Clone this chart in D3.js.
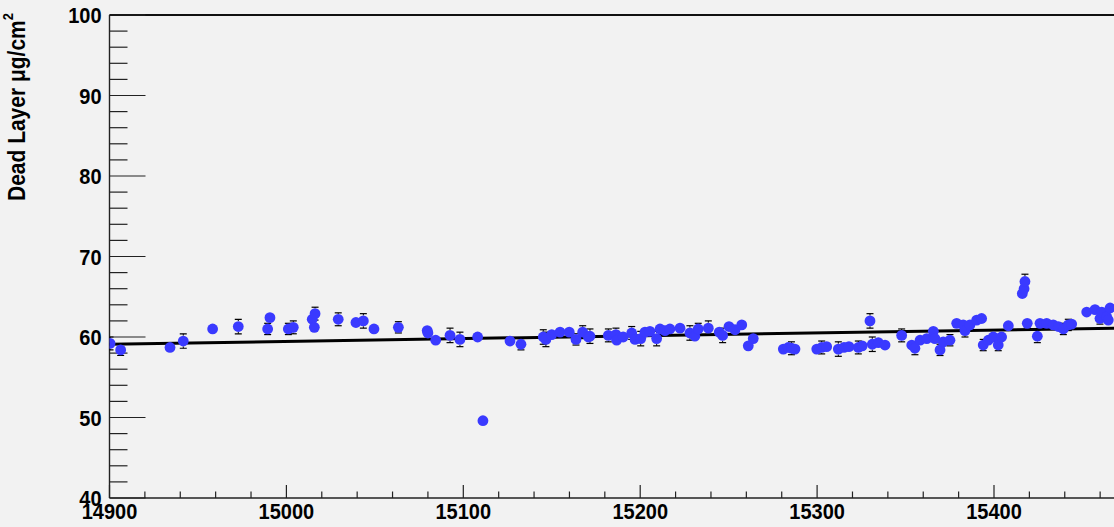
<!DOCTYPE html>
<html>
<head>
<meta charset="utf-8">
<script src="https://cdn.jsdelivr.net/npm/d3@7"></script>
<style>
  html, body { margin: 0; padding: 0; background: #f2f2f2; }
  svg { display: block; }
  text { font-family: "Liberation Sans", Arial, sans-serif; font-weight: bold; fill: #000; }
</style>
</head>
<body>
<svg id="chart" width="1114" height="527"></svg>
<script>
// ---- data ----
const dates = [
  14900.3, 14906.3, 14934.2, 14941.7, 14958.3, 14972.8, 14989.4, 14990.7, 15001.1, 15003.9,
  15014.6, 15015.8, 15016.2, 15029.3, 15039.3, 15043.5, 15049.5, 15063.3, 15079.6, 15080.0,
  15084.4, 15092.5, 15098.1, 15108.1, 15111.1, 15126.4, 15132.6, 15145.2, 15146.7, 15150.0,
  15154.7, 15159.9, 15163.7, 15167.5, 15170.7, 15171.6, 15182.0, 15186.3, 15186.7, 15190.4,
  15195.2, 15197.1, 15200.3, 15202.7, 15205.5, 15209.3, 15211.2, 15214.0, 15216.8, 15222.5,
  15228.1, 15230.9, 15232.8, 15238.5, 15244.7, 15246.6, 15250.2, 15253.6, 15257.4, 15261.1,
  15263.9, 15280.9, 15283.7, 15285.5, 15287.5, 15299.8, 15302.6, 15305.4, 15312.0, 15315.2,
  15318.0, 15323.3, 15325.5, 15329.9, 15331.2, 15334.6, 15338.4, 15347.8, 15353.5, 15355.3,
  15358.2, 15362.0, 15365.7, 15366.6, 15369.5, 15371.3, 15375.1, 15378.9, 15382.6, 15383.6,
  15386.4, 15390.2, 15393.0, 15393.9, 15396.8, 15399.6, 15402.4, 15404.3, 15408.1, 15416.0,
  15417.0, 15417.5, 15418.8, 15424.5, 15426.0, 15429.8, 15433.5, 15436.4, 15439.2, 15442.0,
  15443.9, 15452.4, 15457.1, 15459.9, 15460.9, 15463.7, 15464.6, 15465.6
];
const deadLayer = [
  59.2, 58.4, 58.7, 59.5, 61.0, 61.3, 61.0, 62.4, 61.0, 61.2,
  62.2, 61.2, 62.9, 62.2, 61.8, 62.0, 61.0, 61.2, 60.8, 60.5,
  59.6, 60.2, 59.7, 60.0, 49.6, 59.5, 59.1, 60.0, 59.7, 60.3,
  60.6, 60.6, 59.7, 60.6, 60.0, 60.1, 60.2, 60.3, 59.6, 60.0,
  60.5, 59.7, 59.8, 60.6, 60.7, 59.8, 61.0, 60.8, 61.0, 61.1,
  60.5, 60.1, 61.0, 61.1, 60.6, 60.2, 61.3, 60.9, 61.5, 58.9,
  59.8, 58.5, 58.7, 58.6, 58.5, 58.5, 58.7, 58.8, 58.5, 58.7,
  58.8, 58.7, 58.9, 62.0, 59.1, 59.3, 59.0, 60.2, 59.0, 58.6,
  59.6, 59.8, 60.7, 59.8, 58.4, 59.4, 59.6, 61.7, 61.5, 60.8,
  61.5, 62.1, 62.3, 59.0, 59.6, 60.0, 59.0, 60.0, 61.4, 65.4,
  66.0, 66.9, 61.7, 60.1, 61.7, 61.7, 61.5, 61.3, 61.0, 61.5,
  61.6, 63.1, 63.4, 62.3, 63.1, 62.5, 62.1, 63.6
];
const deadLayerErr = [
  0.8, 0.7, 0.4, 0.9, 0.4, 0.9, 0.7, 0.5, 0.7, 0.8,
  0.5, 0.6, 0.8, 0.8, 0.5, 0.9, 0.4, 0.7, 0.5, 0.6,
  0.4, 0.9, 0.9, 0.6, 0.3, 0.6, 0.7, 0.9, 0.9, 0.5,
  0.4, 0.4, 0.7, 0.8, 0.5, 0.9, 0.8, 0.8, 0.5, 0.4,
  0.8, 0.5, 0.9, 0.4, 0.4, 0.9, 0.4, 0.5, 0.4, 0.4,
  0.9, 0.6, 0.7, 0.9, 0.5, 0.9, 0.4, 0.4, 0.4, 0.4,
  0.5, 0.5, 0.5, 0.8, 0.6, 0.5, 0.8, 0.5, 0.9, 0.5,
  0.4, 0.8, 0.4, 0.9, 0.9, 0.4, 0.4, 0.8, 0.6, 0.8,
  0.4, 0.4, 0.4, 0.5, 0.7, 0.4, 0.7, 0.4, 0.6, 0.8,
  0.4, 0.4, 0.4, 0.7, 0.4, 0.5, 0.7, 0.4, 0.4, 0.5,
  0.4, 0.9, 0.4, 0.8, 0.4, 0.5, 0.4, 0.5, 0.7, 0.7,
  0.4, 0.4, 0.4, 0.7, 0.5, 0.4, 0.6, 0.4
];
// linear fit drawn over the data
const fitDates = [14900, 15500];
const fitValues = [59.1, 61.2];
// axis ticks (labels visible in the cropped view)
const xMajorTicks = [14900, 15000, 15100, 15200, 15300, 15400];
const yMajorTicks = [40, 50, 60, 70, 80, 90, 100];
const yTitle = "Dead Layer \u03BCg/cm";
const yTitleSup = "2";

// ---- layout ----
const svg = d3.select("#chart");
const W = 1114, H = 527;
const plotLeft = 109.5, plotTop = 15, plotBottom = 498;
const pxPerDay = 1.769;
const x = d3.scaleLinear().domain([14900, 15500]).range([plotLeft, plotLeft + 600 * pxPerDay]);
const y = d3.scaleLinear().domain([40, 100]).range([plotBottom, plotTop]);

svg.append("rect").attr("width", W).attr("height", H).attr("fill", "#f2f2f2");

// top frame line
svg.append("line").attr("x1", plotLeft).attr("x2", W).attr("y1", plotTop).attr("y2", plotTop)
  .attr("stroke", "#111").attr("stroke-width", 2.2);

// Y axis
const yMinor = d3.range(40, 100.001, 2);
const gy = svg.append("g");
gy.append("line").attr("x1", plotLeft).attr("x2", plotLeft).attr("y1", plotTop).attr("y2", plotBottom)
  .attr("stroke", "#222").attr("stroke-width", 1.4);
gy.selectAll("line.tick").data(yMinor).join("line").attr("class", "tick")
  .attr("x1", plotLeft).attr("x2", d => plotLeft + (yMajorTicks.includes(Math.round(d)) ? 36 : 18))
  .attr("y1", d => y(d)).attr("y2", d => y(d))
  .attr("stroke", "#222").attr("stroke-width", 1.2);
gy.selectAll("text").data(yMajorTicks).join("text")
  .attr("transform", d => `translate(${plotLeft - 8},${y(d) + 8}) scale(1,1.08)`)
  .attr("text-anchor", "end").attr("font-size", 20).text(d => d);

// X axis
const xMinor = d3.range(14900, 15500.001, 20);
const gx = svg.append("g");
gx.append("line").attr("x1", plotLeft).attr("x2", W).attr("y1", plotBottom).attr("y2", plotBottom)
  .attr("stroke", "#222").attr("stroke-width", 1.4);
gx.selectAll("line.tick").data(xMinor).join("line").attr("class", "tick")
  .attr("x1", d => x(d)).attr("x2", d => x(d))
  .attr("y1", plotBottom).attr("y2", d => plotBottom - (Math.round(d) % 100 === 0 ? 13 : 6.5))
  .attr("stroke", "#222").attr("stroke-width", 1.2);
gx.selectAll("text").data(xMajorTicks).join("text")
  .attr("transform", d => `translate(${x(d)},518.5) scale(1,1.1)`)
  .attr("text-anchor", "middle").attr("font-size", 20).text(d => d);

// Y title
const yt = svg.append("text")
  .attr("transform", "translate(24.5,13) rotate(-90) scale(1,1.15)")
  .attr("text-anchor", "end").attr("font-size", 21);
yt.append("tspan").text(yTitle);
yt.append("tspan").attr("font-size", 13).attr("dy", -10).text(yTitleSup);

// fit line
svg.append("line")
  .attr("x1", x(fitDates[0])).attr("y1", y(fitValues[0]))
  .attr("x2", x(fitDates[1])).attr("y2", y(fitValues[1]))
  .attr("stroke", "#000").attr("stroke-width", 3);

// data points
const pts = dates.map((d, i) => ({ d, v: deadLayer[i], e: deadLayerErr[i] }));
const r = 5.4;
svg.append("defs").append("clipPath").attr("id", "plotclip")
  .append("rect").attr("x", plotLeft).attr("y", plotTop).attr("width", W - plotLeft).attr("height", plotBottom - plotTop);
const gp = svg.append("g").attr("clip-path", "url(#plotclip)");
const withBars = pts.filter(p => (y(p.v - p.e) - y(p.v)) > r);
withBars.forEach(p => {
  const yc = y(p.v), yl = y(p.v - p.e), yh = y(p.v + p.e), xc = x(p.d);
  gp.append("line").attr("x1", xc).attr("x2", xc).attr("y1", yh).attr("y2", yc - r).attr("stroke", "#000").attr("stroke-width", 1);
  gp.append("line").attr("x1", xc).attr("x2", xc).attr("y1", yc + r).attr("y2", yl).attr("stroke", "#000").attr("stroke-width", 1);
  gp.append("line").attr("x1", xc - 3.5).attr("x2", xc + 3.5).attr("y1", yh).attr("y2", yh).attr("stroke", "#000").attr("stroke-width", 1.2);
  gp.append("line").attr("x1", xc - 3.5).attr("x2", xc + 3.5).attr("y1", yl).attr("y2", yl).attr("stroke", "#000").attr("stroke-width", 1.2);
});
gp.selectAll("circle").data(pts).join("circle")
  .attr("cx", p => x(p.d)).attr("cy", p => y(p.v)).attr("r", r)
  .attr("fill", "#3a3aff");
</script>
</body>
</html>
